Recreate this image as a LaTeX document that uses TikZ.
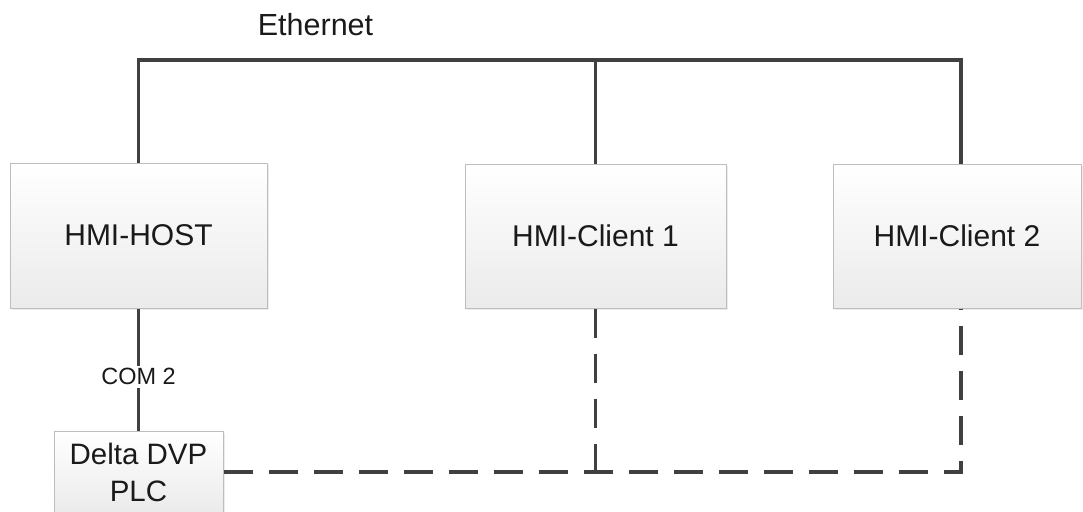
\documentclass[tikz,border=0pt]{standalone}
\usepackage{fontspec}
\setmainfont{Liberation Sans}
\usetikzlibrary{shadows,calc}
\definecolor{wirec}{HTML}{404040}
\definecolor{boxborder}{HTML}{BDBDBD}
\definecolor{txtc}{HTML}{1A1A1A}
\tikzset{
  devbox/.style={draw=boxborder, line width=1pt, top color=white, bottom color=black!8,
    drop shadow={opacity=0.15, shadow xshift=1.5pt, shadow yshift=-1.5pt},
    inner sep=0pt, text=txtc, font=\fontsize{30}{38}\selectfont, align=center},
  wire/.style={draw=wirec, line width=3.2pt},
  dwire/.style={draw=wirec, line width=3.2pt, dash pattern=on 29pt off 16pt},
  lbl/.style={text=txtc, inner sep=1pt}
}
\begin{document}
\begin{tikzpicture}[x=1pt,y=-1pt]
\useasboundingbox (0,0) rectangle (1083,511);
\clip (0,0) rectangle (1083,511);
% boxes
\node[devbox, minimum width=257pt, minimum height=145pt] (host) at (138.5,235.5) {HMI-HOST};
\node[devbox, minimum width=261pt, minimum height=144pt] (client1) at (595.5,236) {HMI-Client 1};
\node[devbox, minimum width=248pt, minimum height=144pt] (client2) at (957,236) {HMI-Client 2};
\node[devbox, minimum width=169pt, minimum height=82pt, font=\fontsize{29.5}{37}\selectfont] (plc) at (138.5,472) {Delta DVP\\PLC};
% ethernet bus
\coordinate (e2) at (961,60);
\draw[wire] (host.north) |- (e2) -- (e2 |- client2.north);
\draw[wire] (client1.north) -- (client1.north |- e2);
\node[lbl, anchor=base, font=\fontsize{30.5}{36}\selectfont] (eth) at (315.5,36) {Ethernet};
% serial link
\draw[wire] (host.south) -- node[pos=0.56, fill=white, lbl, inner sep=3pt, font=\fontsize{23.5}{28}\selectfont] (com) {COM 2} (plc.north);
% dashed links
\coordinate (j1) at (client1.south |- plc.east);
\coordinate (j2) at (e2 |- plc.east);
\draw[dwire] (plc.east) -- (j2) -- (e2 |- client2.south);
\draw[dwire] (client1.south) -- (j1);
\end{tikzpicture}
\end{document}
